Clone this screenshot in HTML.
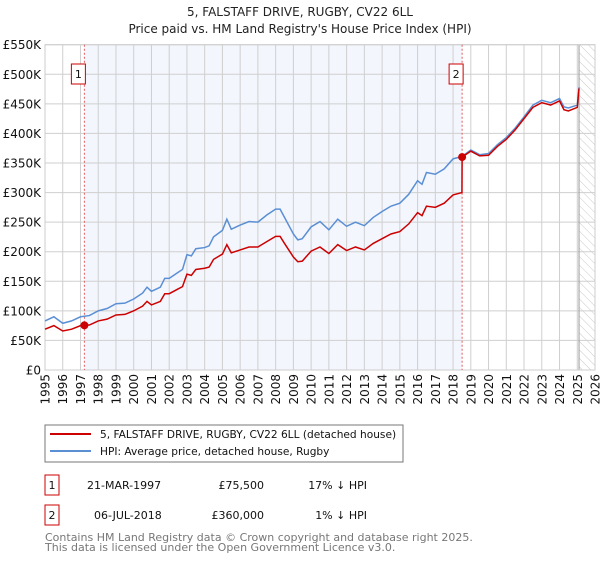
<!DOCTYPE html>
<html><head><meta charset="utf-8"><style>
body{margin:0;width:600px;height:560px;background:#fff;font-family:"DejaVu Sans","Liberation Sans",sans-serif;overflow:hidden}
svg text{font-family:"DejaVu Sans","Liberation Sans",sans-serif}
</style></head><body>
<svg id="c" width="600" height="560">
<defs><pattern id="hatch" width="6" height="6" patternUnits="userSpaceOnUse" patternTransform="rotate(-45)"><line x1="0" y1="0" x2="0" y2="6" stroke="#bbb" stroke-width="0.8"/></pattern></defs>
<text x="300" y="16" text-anchor="middle" font-size="12" fill="#222">5, FALSTAFF DRIVE, RUGBY, CV22 6LL</text>
<text x="300" y="33" text-anchor="middle" font-size="12" fill="#222">Price paid vs. HM Land Registry's House Price Index (HPI)</text>
<g id="plot"></g>
<rect x="45" y="425" width="358" height="37" fill="#fff" stroke="#777"/>
<line x1="50" y1="434" x2="91" y2="434" stroke="#cc0000" stroke-width="2"/>
<text x="100" y="438" font-size="10.6" fill="#111">5, FALSTAFF DRIVE, RUGBY, CV22 6LL (detached house)</text>
<line x1="50" y1="451" x2="91" y2="451" stroke="#5b8fd4" stroke-width="2"/>
<text x="100" y="455" font-size="10.6" fill="#111">HPI: Average price, detached house, Rugby</text>
<g font-size="11" fill="#111">
<rect x="45" y="475" width="14" height="20" fill="#fff" stroke="#cc0000"/>
<text x="52" y="489" text-anchor="middle">1</text>
<text x="87" y="489">21-MAR-1997</text>
<text x="264" y="489" text-anchor="end">£75,500</text>
<text x="367" y="489" text-anchor="end">17% ↓ HPI</text>
<rect x="45" y="505" width="14" height="20" fill="#fff" stroke="#cc0000"/>
<text x="52" y="519" text-anchor="middle">2</text>
<text x="94" y="519">06-JUL-2018</text>
<text x="264" y="519" text-anchor="end">£360,000</text>
<text x="367" y="519" text-anchor="end">1% ↓ HPI</text>
</g>
<text x="45" y="541" font-size="11" fill="#777">Contains HM Land Registry data © Crown copyright and database right 2025.</text>
<text x="45" y="551" font-size="11" fill="#777">This data is licensed under the Open Government Licence v3.0.</text>
</svg>
<script>
const hpiYears=[1995,1995.5,1996,1996.5,1997,1997.5,1998,1998.5,1999,1999.5,2000,2000.5,2000.75,2001,2001.5,2001.75,2002,2002.5,2002.75,2003,2003.25,2003.5,2004,2004.25,2004.5,2005,2005.25,2005.5,2006,2006.5,2007,2007.5,2008,2008.25,2008.5,2009,2009.25,2009.5,2010,2010.5,2011,2011.5,2012,2012.5,2013,2013.5,2014,2014.5,2015,2015.5,2016,2016.25,2016.5,2017,2017.5,2018,2018.5,2019,2019.5,2020,2020.5,2021,2021.5,2022,2022.5,2023,2023.5,2024,2024.25,2024.5,2025,2025.1];
const hpiValues=[83,90,79,83,90,92,100,104,112,113,120,130,140,133,140,155,155,165,170,195,193,205,207,210,225,236,255,238,245,251,250,262,272,272,258,230,220,222,242,251,237,255,243,250,244,258,268,277,282,297,320,314,334,331,340,357,361,372,364,366,381,393,409,428,448,456,452,459,445,443,448,478];
const priceYears=[1995,1995.5,1996,1996.5,1997,1997.5,1998,1998.5,1999,1999.5,2000,2000.5,2000.75,2001,2001.5,2001.75,2002,2002.5,2002.75,2003,2003.25,2003.5,2004,2004.25,2004.5,2005,2005.25,2005.5,2006,2006.5,2007,2007.5,2008,2008.25,2008.5,2009,2009.25,2009.5,2010,2010.5,2011,2011.5,2012,2012.5,2013,2013.5,2014,2014.5,2015,2015.5,2016,2016.25,2016.5,2017,2017.5,2018,2018.5,2018.51,2019,2019.5,2020,2020.5,2021,2021.5,2022,2022.5,2023,2023.5,2024,2024.25,2024.5,2025,2025.1];
const priceValues=[69,75,66,69,75,76,83,86,93,94,100,108,116,110,116,129,129,137,141,162,160,170,172,174,187,196,212,198,203,208,208,217,226,226,214,191,183,184,201,208,197,212,202,208,203,214,222,230,234,247,266,261,277,275,282,296,300,360,370,362,363,378,390,406,425,444,452,448,455,440,438,444,476];
const saleYears=[1997.22,2018.51];
const saleValues=[75.5,360];
const saleLabels=["1","2"];
const yTicks=[0,50,100,150,200,250,300,350,400,450,500,550];
const yTickLabels=["£0","£50K","£100K","£150K","£200K","£250K","£300K","£350K","£400K","£450K","£500K","£550K"];
const xTicks=[1995,1996,1997,1998,1999,2000,2001,2002,2003,2004,2005,2006,2007,2008,2009,2010,2011,2012,2013,2014,2015,2016,2017,2018,2019,2020,2021,2022,2023,2024,2025,2026];
const L=45,R=595,T=44.7,B=370,X0=1995,X1=2026,YMAX=550,dataEnd=2025.1;
const x=v=>L+(v-X0)/(X1-X0)*(R-L), y=v=>B-v/YMAX*(B-T);
const g=document.getElementById('plot'),NS='http://www.w3.org/2000/svg';
function mk(t,a,p){const e=document.createElementNS(NS,t);for(const k in a)e.setAttribute(k,a[k]);(p||g).appendChild(e);return e;}
let e;
e=mk('rect',{x:x(saleYears[0]),y:T,width:x(saleYears[1])-x(saleYears[0]),height:B-T,fill:'#f3f6fd'});


e=mk('rect',{x:x(dataEnd),y:T,width:R-x(dataEnd),height:B-T,fill:'url(#hatch)'});


yTicks.forEach((t,i)=>{
 e=mk('line',{x1:L,x2:R,y1:y(t),y2:y(t),stroke:'#cfcfcf','stroke-width':1});
 
 
 e=mk('text',{x:L-4,y:y(t)+4.5,'text-anchor':'end','font-size':12,fill:'#111'});
 e.textContent=yTickLabels[i];
 
 
});
xTicks.forEach(t=>{
 e=mk('line',{x1:x(t),x2:x(t),y1:T,y2:B,stroke:'#cfcfcf','stroke-width':1});
 
 
 e=mk('text',{x:0,y:0,'text-anchor':'end','font-size':12,fill:'#111',transform:`translate(${x(t)+4.5},${B+4}) rotate(-90)`});
 e.textContent=t;
 
 
});
e=mk('line',{x1:x(dataEnd),x2:x(dataEnd),y1:T,y2:B,stroke:'#999','stroke-width':1});


e=mk('rect',{x:L,y:T,width:R-L,height:B-T,fill:'none',stroke:'#ccc'});


saleYears.forEach((s,i)=>{
 e=mk('line',{x1:x(s),x2:x(s),y1:T,y2:B,stroke:'#e06060','stroke-width':1,'stroke-dasharray':'2,2'});
 
 
});
e=mk('polyline',{points:hpiYears.map((v,i)=>x(v)+','+y(hpiValues[i])).join(' '),fill:'none',stroke:'#5b8fd4','stroke-width':1.5});


e=mk('polyline',{points:priceYears.map((v,i)=>x(v)+','+y(priceValues[i])).join(' '),fill:'none',stroke:'#cc0000','stroke-width':1.5});


saleYears.forEach((s,i)=>{
 e=mk('circle',{cx:x(s),cy:y(saleValues[i]),r:4,fill:'#cc0000'});
 
 
 e=mk('rect',{x:x(s)-13,y:64,width:14,height:20,fill:'#fff',stroke:'#cc0000'});
 
 
 e=mk('text',{x:x(s)-6,y:78,'text-anchor':'middle','font-size':11,fill:'#111'});
 e.textContent=saleLabels[i];
 
 
});
</script>
</body></html>
